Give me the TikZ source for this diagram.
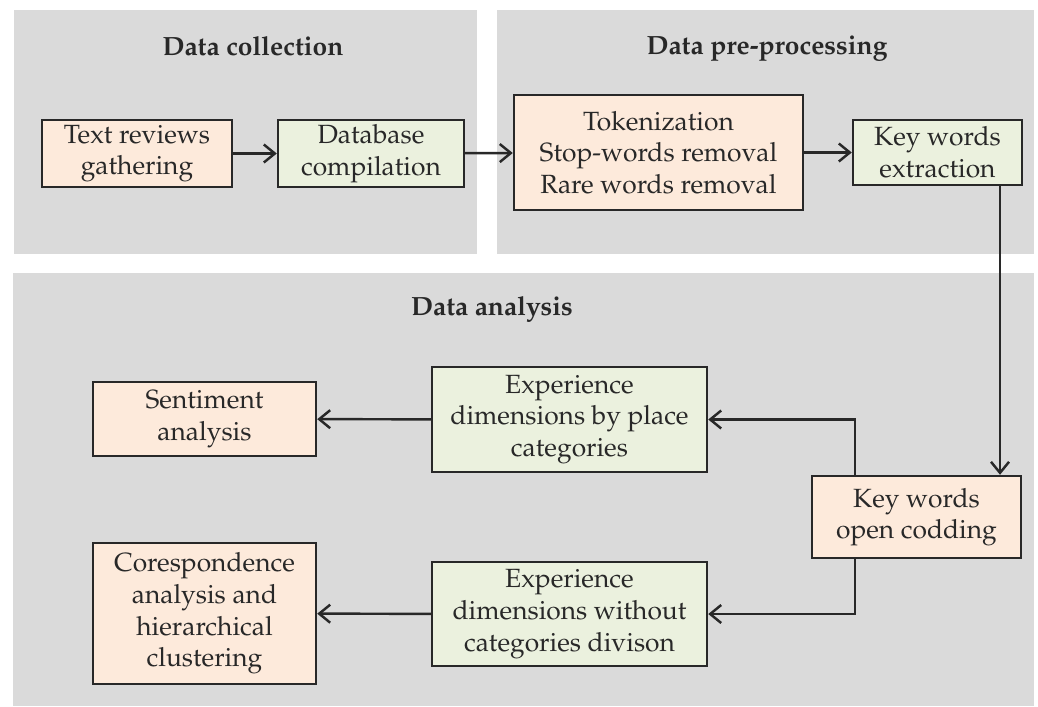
\documentclass[tikz,border=0pt]{standalone}
\usepackage[T1]{fontenc}
\renewcommand{\rmdefault}{ppl}
\usepackage{tikz}
\usetikzlibrary{arrows.meta}

\definecolor{panelgray}{RGB}{218,218,218}
\definecolor{peachfill}{RGB}{253,234,219}
\definecolor{greenfill}{RGB}{235,241,222}
\definecolor{inkgray}{RGB}{40,40,40}

\begin{document}
\begin{tikzpicture}[x=0.2mm, y=-0.2mm,
    panel/.style={fill=panelgray, draw=none},
    title/.style={font=\bfseries\fontsize{15}{18}\selectfont, text=inkgray, anchor=base},
    stepbox/.style={draw=inkgray, line width=1.4pt, align=center, inner sep=0pt,
        font=\fontsize{15}{18}\selectfont, text=inkgray},
    peach/.style={stepbox, fill=peachfill},
    green/.style={stepbox, fill=greenfill},
    arr/.style={draw=inkgray, line width=1.4pt, -{Straight Barb[length=2.2mm, width=3.6mm, line width=1.4pt]}}]

    \useasboundingbox (0,0) rectangle (1038,706);

    % =====================================================
    % PANELS
    % =====================================================
    \fill[panelgray] (14,10) rectangle (477,254);
    \fill[panelgray] (497,10) rectangle (1034,254);
    \fill[panelgray] (13,273) rectangle (1034,706);

    \node[title] (tcol) at (253,55) {Data collection};
    \node[title] (tpre) at (767,54) {Data pre-processing};
    \node[title] (tana) at (492,315) {Data analysis};

    % =====================================================
    % DATA COLLECTION
    % =====================================================
    \node[peach, minimum width=38mm, minimum height=13.4mm] (txt) at (137,153.5)
        {Text reviews\\gathering};
    \node[green, minimum width=37.2mm, minimum height=13.4mm] (db) at (371,153.5)
        {Database\\compilation};

    % =====================================================
    % DATA PRE-PROCESSING
    % =====================================================
    \node[peach, minimum width=57.8mm, minimum height=23mm] (tok) at (658.5,152.5)
        {Tokenization\\Stop-words removal\\Rare words removal};
    \node[green, minimum width=33.8mm, minimum height=13mm] (kwe) at (937.5,152.5)
        {Key words\\extraction};

    % =====================================================
    % DATA ANALYSIS
    % =====================================================
    \node[peach, minimum width=44.6mm, minimum height=14.8mm] (sent) at (204.5,419)
        {Sentiment\\analysis};
    \node[green, minimum width=55mm, minimum height=21mm] (expp) at (569.5,419.5)
        {Experience\\dimensions by place\\categories};
    \node[peach, minimum width=41.8mm, minimum height=16.4mm] (kwo) at (916.5,517)
        {Key words\\open codding};
    \node[peach, minimum width=44.6mm, minimum height=28.2mm] (cor) at (204.5,613.5)
        {Corespondence\\analysis and\\hierarchical\\clustering};
    \node[green, minimum width=55mm, minimum height=20.8mm] (expw) at (569.5,614)
        {Experience\\dimensions without\\categories divison};

    % Helper coordinates for the vertical runs
    \coordinate (down) at (1000,0);
    \coordinate (split) at (855,0);

    % Connectors
    \draw[arr] (txt) -- (db);
    \draw[arr] (db) -- (tok);
    \draw[arr] (tok) -- (kwe);
    \draw[arr] (kwe.south -| down) -- (kwo.north -| down);
    \draw[arr] (kwo.north -| split) |- (expp.east);
    \draw[arr] (kwo.south -| split) |- (expw.east);
    \draw[arr] (expp) -- (sent);
    \draw[arr] (expw) -- (cor);

\end{tikzpicture}
\end{document}
